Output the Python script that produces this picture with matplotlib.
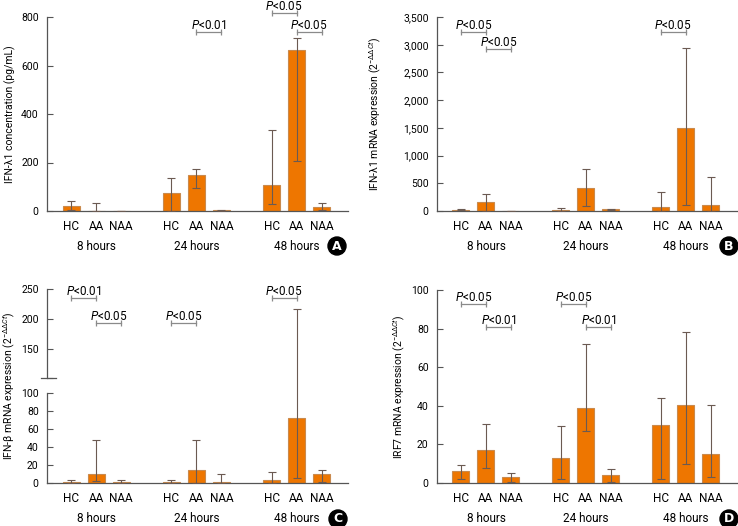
import numpy as np
import matplotlib.pyplot as plt
from matplotlib.ticker import FuncFormatter

plt.rcParams['font.family'] = ['Roboto', 'DejaVu Sans']
plt.rcParams['mathtext.fontset'] = 'custom'
plt.rcParams['mathtext.rm'] = 'Roboto'
plt.rcParams['mathtext.it'] = 'Roboto:italic'

groups = ["8 hours", "24 hours", "48 hours"]
cats = ["HC", "AA", "NAA"] * 3
xpos = [0, 1, 2, 4, 5, 6, 8, 9, 10]
group_centers = [1, 5, 9]

# panel A: IFN-lambda1 concentration
a_mean = [22, 1, 0.5, 75, 150, 3, 108, 665, 15]
a_low = [3, 0, 0, 0, 93, 0, 28, 208, 5]
a_high = [40, 35, 1, 138, 175, 6, 333, 713, 33]
a_pvals = [(4, 5, 738, "0.01"), (6, 7, 816, "0.05"), (7, 8, 738, "0.05")]

# panel B: IFN-lambda1 mRNA
b_mean = [25, 170, 5, 25, 415, 30, 65, 1490, 100]
b_low = [15, 0, 0, 0, 95, 15, 0, 115, 0]
b_high = [32, 305, 8, 60, 750, 45, 350, 2940, 620]
b_pvals = [(0, 1, 3230, "0.05"), (1, 2, 2930, "0.05"), (6, 7, 3230, "0.05")]

# panel C: IFN-beta mRNA
c_mean = [1.5, 10, 1.5, 1.5, 14, 1, 3.5, 72, 10]
c_low = [0, 2, 0, 0, 0, 0, 0, 6, 1]
c_high = [3.5, 48, 3.5, 3.5, 48, 10, 12, 216, 14]
c_pvals = [(0, 1, 235, "0.01"), (1, 2, 193, "0.05"), (3, 4, 193, "0.05"), (6, 7, 235, "0.05")]

# panel D: IRF7 mRNA
d_mean = [6, 17, 3, 13, 39, 4, 30, 40.5, 15]
d_low = [2, 8, 0.5, 2, 27, 0.5, 2, 10, 3]
d_high = [9.5, 30.5, 5, 29.5, 72, 7, 44, 78, 40.5]
d_pvals = [(0, 1, 92.5, "0.05"), (1, 2, 81, "0.01"), (3, 4, 92.5, "0.05"), (4, 5, 81, "0.01")]

BAR = '#EE7600'
EDGE = '#C98A4E'
ERR = '#6B5A52'
SPINE = '#555555'
BRK = '#8A8A8A'

W, H = 738, 526
fig = plt.figure(figsize=(W / 100, H / 100), dpi=100)


def make_ax(left, right, top, bottom):
    return fig.add_axes([left / W, 1 - bottom / H, (right - left) / W, (bottom - top) / H])


def draw_panel(ax, mean, low, high, pvals, letter, letter_xy):
    mean = np.array(mean)
    yerr = [mean - np.array(low), np.array(high) - mean]
    ax.bar(xpos, mean, width=0.68, color=BAR, edgecolor=EDGE, linewidth=0.8, zorder=2)
    ax.errorbar(xpos, mean, yerr=yerr, fmt='none', ecolor=ERR, elinewidth=0.8,
                capsize=2.8, capthick=0.8, zorder=3)
    ax.set_xlim(-0.96, 11.05)
    ax.set_xticks([])
    for s in ['top', 'right']:
        ax.spines[s].set_visible(False)
    for s in ['left', 'bottom']:
        ax.spines[s].set_color(SPINE)
        ax.spines[s].set_linewidth(0.9)
    ax.tick_params(axis='y', direction='in', length=4, width=0.8, color=SPINE,
                   labelsize=7.5, pad=6)
    for x, c in zip(xpos, cats):
        ax.annotate(c, (x, 0), xycoords=('data', 'axes fraction'), xytext=(0, -10.8),
                    textcoords='offset points', ha='center', va='center', fontsize=8.5,
                    annotation_clip=False)
    for x, g in zip(group_centers, groups):
        ax.annotate(g, (x, 0), xycoords=('data', 'axes fraction'), xytext=(0, -25.9),
                    textcoords='offset points', ha='center', va='center', fontsize=8.5,
                    annotation_clip=False)
    for i, j, y, p in pvals:
        ax.plot([xpos[i], xpos[j]], [y, y], color=BRK, linewidth=0.9, marker='|',
                markersize=4.5, markeredgewidth=0.9, clip_on=False, zorder=4)
        ax.annotate(r"$\mathit{P}$<" + p, ((xpos[i] + xpos[j]) / 2, y),
                    xytext=(0, 2.2), textcoords='offset points', ha='center',
                    va='baseline', fontsize=8.5, annotation_clip=False)
    fig.text(letter_xy[0] / W, 1 - letter_xy[1] / H, letter, color='white',
             fontweight='bold', fontsize=9, ha='center', va='center',
             family='DejaVu Sans',
             bbox=dict(boxstyle='circle,pad=0.2', fc='black', ec='black'))


# A
ax_a = make_ax(47, 348, 17, 211)
draw_panel(ax_a, a_mean, a_low, a_high, a_pvals, "A", (337, 246))
ax_a.set_ylim(0, 800)
ax_a.set_yticks(range(0, 801, 200))
ax_a.set_ylabel("IFN-λ1 concentration (pg/mL)", fontsize=7.5)
ax_a.yaxis.set_label_coords(-31 / 301, 0.5)

# B
ax_b = make_ax(437, 737, 17, 211)
draw_panel(ax_b, b_mean, b_low, b_high, b_pvals, "B", (729, 246))
ax_b.set_ylim(0, 3500)
ax_b.set_yticks(range(0, 3501, 500))
ax_b.yaxis.set_major_formatter(FuncFormatter(lambda v, _: f"{int(v):,}"))
ax_b.set_ylabel(r"IFN-λ1 mRNA expression (2$^{-\Delta\Delta Ct}$)", fontsize=7.5)
ax_b.yaxis.set_label_coords(-54 / 300, 0.5)

# C, broken y axis
brk_v = [0, 100, 101, 300]
brk_y = [0, 90, 104.6, 224]


def fwd(v):
    return np.interp(v, brk_v, brk_y)


def inv(y):
    return np.interp(y, brk_y, brk_v)


ax_c = make_ax(47, 348, 289, 483)
ax_c.set_yscale('function', functions=(fwd, inv))
draw_panel(ax_c, c_mean, c_low, c_high, c_pvals, "C", (338, 519))
ax_c.set_ylim(0, 250)
ax_c.set_yticks([0, 20, 40, 60, 80, 100, 101, 150, 200, 250])
ax_c.set_yticklabels(['0', '20', '40', '60', '80', '100', '', '150', '200', '250'])
ax_c.yaxis.set_minor_locator(plt.NullLocator())
ax_c.spines['left'].set_visible(False)
ytr = ax_c.get_yaxis_transform()
ax_c.plot([0, 0], [0, 100], transform=ytr, color=SPINE, linewidth=0.9, clip_on=False)
ax_c.plot([0, 0], [101, 250], transform=ytr, color=SPINE, linewidth=0.9, clip_on=False)
ax_c.plot([-0.02, 0.03], [101, 101], transform=ytr, color=SPINE, linewidth=0.9, clip_on=False)
ax_c.set_ylabel(r"IFN-β mRNA expression (2$^{-\Delta\Delta Ct}$)", fontsize=7.5)
ax_c.yaxis.set_label_coords(-30 / 301, 0.5)

# D
ax_d = make_ax(437, 737, 290, 483)
draw_panel(ax_d, d_mean, d_low, d_high, d_pvals, "D", (729, 519))
ax_d.set_ylim(0, 100)
ax_d.set_yticks(range(0, 101, 20))
ax_d.set_ylabel(r"IRF7 mRNA expression (2$^{-\Delta\Delta Ct}$)", fontsize=7.5)
ax_d.yaxis.set_label_coords(-30 / 300, 0.5)

fig.savefig("out.png", dpi=100)
